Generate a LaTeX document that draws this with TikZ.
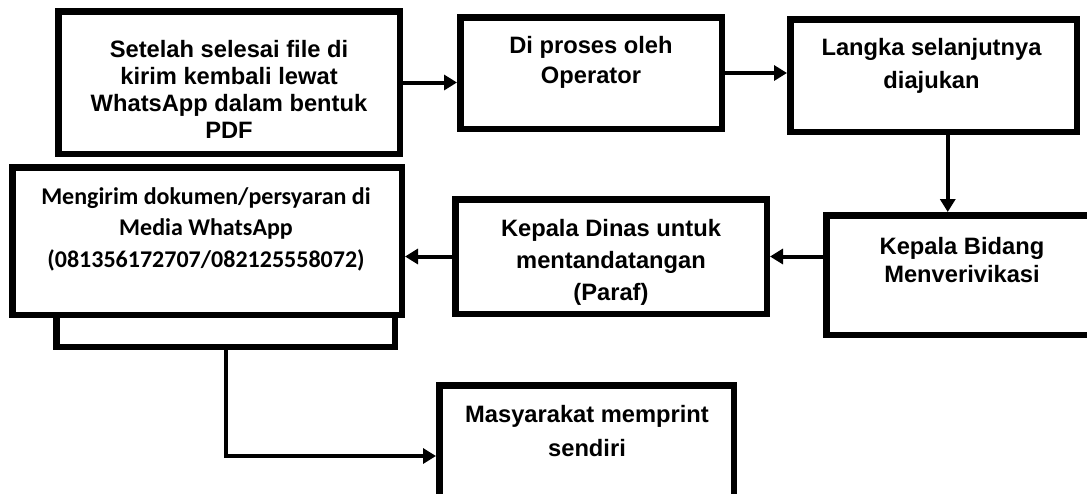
\documentclass[tikz,border=0pt]{standalone}
\usepackage{fontspec}
\setmainfont{Liberation Sans}
\newfontfamily\calfont{Carlito}
\usetikzlibrary{arrows.meta,calc}

\begin{document}
\begin{tikzpicture}[x=1pt,y=-1pt,
 box/.style={draw,line width=6.5pt,fill=white,inner sep=0pt},
 txt/.style={align=center,font=\bfseries\fontsize{23.7}{#1}\selectfont},
 txt/.default=30,
 arr/.style={line width=4pt,-{Triangle[length=13pt,width=15pt]}}]
\clip (0,0) rectangle (1087,493);
\node[box,minimum width=341.5pt,minimum height=142.5pt] (kirim) at (229,82.5) {};
\node[box,minimum width=261.5pt,minimum height=111.5pt] (proses) at (591,73) {};
\node[box,minimum width=286.5pt,minimum height=112.5pt] (ajukan) at (933.5,75.5) {};
\node[box,minimum width=271.5pt,minimum height=119.5pt] (bidang) at (962,275) {};
\node[box,minimum width=311.5pt,minimum height=114.5pt] (dinas) at (611,256.5) {};
\node[box,minimum width=338.5pt,minimum height=43.5pt] (wa2) at (225.5,325) {};
\node[box,minimum width=389.5pt,minimum height=147.5pt] (wa) at (207,241) {};
\node[box,minimum width=294.5pt,minimum height=141.5pt] (print) at (586.5,456) {};

\node[txt=27] (kirim-t) at (229,89) {Setelah selesai file di\\kirim kembali lewat\\WhatsApp dalam bentuk\\PDF};
\node[txt] (proses-t) at (591,62) {Di proses oleh\\Operator};
\node[txt=33] (ajukan-t) at (931.5,65.5) {Langka selanjutnya\\diajukan};
\node[txt=28] (bidang-t) at (962,260.5) {Kepala Bidang\\Menverivikasi};
\node[txt=32] (dinas-t) at (611,262) {Kepala Dinas untuk\\mentandatangan\\(Paraf)};
\node[align=center,font=\calfont\bfseries\fontsize{24}{31.5}\selectfont] (wa-t) at (206,229)
 {Mengirim dokumen/persyaran di\\Media WhatsApp\\(081356172707/082125558072)};
\node[txt=34] (print-t) at (587,431.5) {Masyarakat memprint\\sendiri};

\draw[arr] (kirim.east) -- (kirim.east -| proses.west);
\draw[arr] (proses.east) -- (proses.east -| ajukan.west);
\coordinate (turun) at ($(ajukan.south)!.5!(bidang.north)$);
\draw[arr] (ajukan.south -| turun) -- (bidang.north -| turun);
\draw[arr] (bidang.west |- dinas.east) -- (dinas.east);
\draw[arr] (dinas.west) -- (wa.east |- dinas.west);
\draw[arr] (wa2.south) |- (print.west);
\end{tikzpicture}
\end{document}
